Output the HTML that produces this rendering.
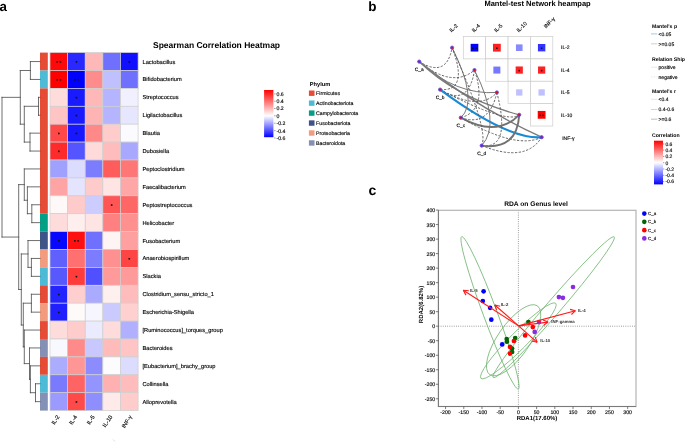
<!DOCTYPE html>
<html><head><meta charset="utf-8"><style>
html,body{margin:0;padding:0;background:#fff;}
body{width:685px;height:444px;overflow:hidden;}
svg{display:block;font-family:'Liberation Sans', sans-serif;will-change:transform;text-rendering:geometricPrecision;}
text{stroke:#000;stroke-width:0.22px;stroke-opacity:0.6;}
text[font-weight="bold"]{stroke:none;}
</style></head><body>
<svg width="685" height="444" viewBox="0 0 685 444">
<rect width="685" height="444" fill="#fff"/>
<text x="-0.5" y="11.0" font-size="13.3" font-weight="bold">a</text>
<text x="153" y="48" font-size="8.5" font-weight="bold">Spearman Correlation Heatmap</text>
<rect x="40" y="52.60" width="7.8" height="17.90" fill="#E64B35"/>
<rect x="40" y="70.50" width="7.8" height="17.90" fill="#4DBBD5"/>
<rect x="40" y="88.40" width="7.8" height="125.30" fill="#E64B35"/>
<rect x="40" y="213.70" width="7.8" height="17.90" fill="#00A087"/>
<rect x="40" y="231.60" width="7.8" height="17.90" fill="#3C5488"/>
<rect x="40" y="249.50" width="7.8" height="17.90" fill="#F39B7F"/>
<rect x="40" y="267.40" width="7.8" height="17.90" fill="#4DBBD5"/>
<rect x="40" y="285.30" width="7.8" height="17.90" fill="#E64B35"/>
<rect x="40" y="303.20" width="7.8" height="17.90" fill="#F39B7F"/>
<rect x="40" y="321.10" width="7.8" height="17.90" fill="#E64B35"/>
<rect x="40" y="339.00" width="7.8" height="17.90" fill="#8491B4"/>
<rect x="40" y="356.90" width="7.8" height="17.90" fill="#E64B35"/>
<rect x="40" y="374.80" width="7.8" height="17.90" fill="#4DBBD5"/>
<rect x="40" y="392.70" width="7.8" height="17.90" fill="#8491B4"/>
<rect x="50.00" y="52.60" width="17.62" height="17.90" fill="#ff0a0a" stroke="#cfcfcf" stroke-width="0.7"/>
<rect x="56.41" y="61.05" width="1.6" height="1.6" fill="#111"/>
<rect x="59.61" y="61.05" width="1.6" height="1.6" fill="#111"/>
<rect x="67.62" y="52.60" width="17.62" height="17.90" fill="#2828ff" stroke="#cfcfcf" stroke-width="0.7"/>
<rect x="75.63" y="61.05" width="1.6" height="1.6" fill="#111"/>
<rect x="85.24" y="52.60" width="17.62" height="17.90" fill="#ffb8b8" stroke="#cfcfcf" stroke-width="0.7"/>
<rect x="102.86" y="52.60" width="17.62" height="17.90" fill="#7070ff" stroke="#cfcfcf" stroke-width="0.7"/>
<rect x="120.48" y="52.60" width="17.62" height="17.90" fill="#1010ff" stroke="#cfcfcf" stroke-width="0.7"/>
<rect x="128.49" y="61.05" width="1.6" height="1.6" fill="#111"/>
<text x="142.5" y="63.55" font-size="5.7">Lactobacillus</text>
<rect x="50.00" y="70.50" width="17.62" height="17.90" fill="#ff0000" stroke="#cfcfcf" stroke-width="0.7"/>
<rect x="56.41" y="78.95" width="1.6" height="1.6" fill="#111"/>
<rect x="59.61" y="78.95" width="1.6" height="1.6" fill="#111"/>
<rect x="67.62" y="70.50" width="17.62" height="17.90" fill="#0000ff" stroke="#cfcfcf" stroke-width="0.7"/>
<rect x="74.03" y="78.95" width="1.6" height="1.6" fill="#111"/>
<rect x="77.23" y="78.95" width="1.6" height="1.6" fill="#111"/>
<rect x="85.24" y="70.50" width="17.62" height="17.90" fill="#ff8c8c" stroke="#cfcfcf" stroke-width="0.7"/>
<rect x="102.86" y="70.50" width="17.62" height="17.90" fill="#c0c0ff" stroke="#cfcfcf" stroke-width="0.7"/>
<rect x="120.48" y="70.50" width="17.62" height="17.90" fill="#7070ff" stroke="#cfcfcf" stroke-width="0.7"/>
<text x="142.5" y="81.45" font-size="5.7">Bifidobacterium</text>
<rect x="50.00" y="88.40" width="17.62" height="17.90" fill="#ffdcdc" stroke="#cfcfcf" stroke-width="0.7"/>
<rect x="67.62" y="88.40" width="17.62" height="17.90" fill="#1a1aff" stroke="#cfcfcf" stroke-width="0.7"/>
<rect x="75.63" y="96.85" width="1.6" height="1.6" fill="#111"/>
<rect x="85.24" y="88.40" width="17.62" height="17.90" fill="#ffb8b8" stroke="#cfcfcf" stroke-width="0.7"/>
<rect x="102.86" y="88.40" width="17.62" height="17.90" fill="#b4b4ff" stroke="#cfcfcf" stroke-width="0.7"/>
<rect x="120.48" y="88.40" width="17.62" height="17.90" fill="#f0f0ff" stroke="#cfcfcf" stroke-width="0.7"/>
<text x="142.5" y="99.35" font-size="5.7">Streptococcus</text>
<rect x="50.00" y="106.30" width="17.62" height="17.90" fill="#ffc4c4" stroke="#cfcfcf" stroke-width="0.7"/>
<rect x="67.62" y="106.30" width="17.62" height="17.90" fill="#1a1aff" stroke="#cfcfcf" stroke-width="0.7"/>
<rect x="75.63" y="114.75" width="1.6" height="1.6" fill="#111"/>
<rect x="85.24" y="106.30" width="17.62" height="17.90" fill="#ffb4b4" stroke="#cfcfcf" stroke-width="0.7"/>
<rect x="102.86" y="106.30" width="17.62" height="17.90" fill="#b4b4ff" stroke="#cfcfcf" stroke-width="0.7"/>
<rect x="120.48" y="106.30" width="17.62" height="17.90" fill="#e6e6ff" stroke="#cfcfcf" stroke-width="0.7"/>
<text x="142.5" y="117.25" font-size="5.7">Ligilactobacillus</text>
<rect x="50.00" y="124.20" width="17.62" height="17.90" fill="#ff4848" stroke="#cfcfcf" stroke-width="0.7"/>
<rect x="58.01" y="132.65" width="1.6" height="1.6" fill="#111"/>
<rect x="67.62" y="124.20" width="17.62" height="17.90" fill="#1818ff" stroke="#cfcfcf" stroke-width="0.7"/>
<rect x="75.63" y="132.65" width="1.6" height="1.6" fill="#111"/>
<rect x="85.24" y="124.20" width="17.62" height="17.90" fill="#ff8888" stroke="#cfcfcf" stroke-width="0.7"/>
<rect x="102.86" y="124.20" width="17.62" height="17.90" fill="#ffcccc" stroke="#cfcfcf" stroke-width="0.7"/>
<rect x="120.48" y="124.20" width="17.62" height="17.90" fill="#fafaff" stroke="#cfcfcf" stroke-width="0.7"/>
<text x="142.5" y="135.15" font-size="5.7">Blautia</text>
<rect x="50.00" y="142.10" width="17.62" height="17.90" fill="#ff2a2a" stroke="#cfcfcf" stroke-width="0.7"/>
<rect x="58.01" y="150.55" width="1.6" height="1.6" fill="#111"/>
<rect x="67.62" y="142.10" width="17.62" height="17.90" fill="#5555ff" stroke="#cfcfcf" stroke-width="0.7"/>
<rect x="85.24" y="142.10" width="17.62" height="17.90" fill="#ffdada" stroke="#cfcfcf" stroke-width="0.7"/>
<rect x="102.86" y="142.10" width="17.62" height="17.90" fill="#ffbcbc" stroke="#cfcfcf" stroke-width="0.7"/>
<rect x="120.48" y="142.10" width="17.62" height="17.90" fill="#a8a8ff" stroke="#cfcfcf" stroke-width="0.7"/>
<text x="142.5" y="153.05" font-size="5.7">Dubosiella</text>
<rect x="50.00" y="160.00" width="17.62" height="17.90" fill="#a0a0ff" stroke="#cfcfcf" stroke-width="0.7"/>
<rect x="67.62" y="160.00" width="17.62" height="17.90" fill="#dcdcff" stroke="#cfcfcf" stroke-width="0.7"/>
<rect x="85.24" y="160.00" width="17.62" height="17.90" fill="#7c7cff" stroke="#cfcfcf" stroke-width="0.7"/>
<rect x="102.86" y="160.00" width="17.62" height="17.90" fill="#ff5c5c" stroke="#cfcfcf" stroke-width="0.7"/>
<rect x="120.48" y="160.00" width="17.62" height="17.90" fill="#ff7676" stroke="#cfcfcf" stroke-width="0.7"/>
<text x="142.5" y="170.95" font-size="5.7">Peptoclostridium</text>
<rect x="50.00" y="177.90" width="17.62" height="17.90" fill="#ffa4a4" stroke="#cfcfcf" stroke-width="0.7"/>
<rect x="67.62" y="177.90" width="17.62" height="17.90" fill="#e4e4ff" stroke="#cfcfcf" stroke-width="0.7"/>
<rect x="85.24" y="177.90" width="17.62" height="17.90" fill="#ffcaca" stroke="#cfcfcf" stroke-width="0.7"/>
<rect x="102.86" y="177.90" width="17.62" height="17.90" fill="#ffe4e4" stroke="#cfcfcf" stroke-width="0.7"/>
<rect x="120.48" y="177.90" width="17.62" height="17.90" fill="#ffa6a6" stroke="#cfcfcf" stroke-width="0.7"/>
<text x="142.5" y="188.85" font-size="5.7">Faecalibacterium</text>
<rect x="50.00" y="195.80" width="17.62" height="17.90" fill="#fff8f8" stroke="#cfcfcf" stroke-width="0.7"/>
<rect x="67.62" y="195.80" width="17.62" height="17.90" fill="#ffcaca" stroke="#cfcfcf" stroke-width="0.7"/>
<rect x="85.24" y="195.80" width="17.62" height="17.90" fill="#ccccff" stroke="#cfcfcf" stroke-width="0.7"/>
<rect x="102.86" y="195.80" width="17.62" height="17.90" fill="#ff5555" stroke="#cfcfcf" stroke-width="0.7"/>
<rect x="110.87" y="204.25" width="1.6" height="1.6" fill="#111"/>
<rect x="120.48" y="195.80" width="17.62" height="17.90" fill="#ff6666" stroke="#cfcfcf" stroke-width="0.7"/>
<text x="142.5" y="206.75" font-size="5.7">Peptostreptococcus</text>
<rect x="50.00" y="213.70" width="17.62" height="17.90" fill="#ffdcdc" stroke="#cfcfcf" stroke-width="0.7"/>
<rect x="67.62" y="213.70" width="17.62" height="17.90" fill="#ffeeee" stroke="#cfcfcf" stroke-width="0.7"/>
<rect x="85.24" y="213.70" width="17.62" height="17.90" fill="#ffe4e4" stroke="#cfcfcf" stroke-width="0.7"/>
<rect x="102.86" y="213.70" width="17.62" height="17.90" fill="#ff8080" stroke="#cfcfcf" stroke-width="0.7"/>
<rect x="120.48" y="213.70" width="17.62" height="17.90" fill="#ff9090" stroke="#cfcfcf" stroke-width="0.7"/>
<text x="142.5" y="224.65" font-size="5.7">Helicobacter</text>
<rect x="50.00" y="231.60" width="17.62" height="17.90" fill="#0808ff" stroke="#cfcfcf" stroke-width="0.7"/>
<rect x="58.01" y="240.05" width="1.6" height="1.6" fill="#111"/>
<rect x="67.62" y="231.60" width="17.62" height="17.90" fill="#ff1010" stroke="#cfcfcf" stroke-width="0.7"/>
<rect x="74.03" y="240.05" width="1.6" height="1.6" fill="#111"/>
<rect x="77.23" y="240.05" width="1.6" height="1.6" fill="#111"/>
<rect x="85.24" y="231.60" width="17.62" height="17.90" fill="#7070ff" stroke="#cfcfcf" stroke-width="0.7"/>
<rect x="102.86" y="231.60" width="17.62" height="17.90" fill="#fff4f4" stroke="#cfcfcf" stroke-width="0.7"/>
<rect x="120.48" y="231.60" width="17.62" height="17.90" fill="#ffa0a0" stroke="#cfcfcf" stroke-width="0.7"/>
<text x="142.5" y="242.55" font-size="5.7">Fusobacterium</text>
<rect x="50.00" y="249.50" width="17.62" height="17.90" fill="#6060ff" stroke="#cfcfcf" stroke-width="0.7"/>
<rect x="67.62" y="249.50" width="17.62" height="17.90" fill="#ff7070" stroke="#cfcfcf" stroke-width="0.7"/>
<rect x="85.24" y="249.50" width="17.62" height="17.90" fill="#7c7cff" stroke="#cfcfcf" stroke-width="0.7"/>
<rect x="102.86" y="249.50" width="17.62" height="17.90" fill="#ff9090" stroke="#cfcfcf" stroke-width="0.7"/>
<rect x="120.48" y="249.50" width="17.62" height="17.90" fill="#ff4444" stroke="#cfcfcf" stroke-width="0.7"/>
<rect x="128.49" y="257.95" width="1.6" height="1.6" fill="#111"/>
<text x="142.5" y="260.45" font-size="5.7">Anaerobiospirillum</text>
<rect x="50.00" y="267.40" width="17.62" height="17.90" fill="#5858ff" stroke="#cfcfcf" stroke-width="0.7"/>
<rect x="67.62" y="267.40" width="17.62" height="17.90" fill="#ff3c3c" stroke="#cfcfcf" stroke-width="0.7"/>
<rect x="75.63" y="275.85" width="1.6" height="1.6" fill="#111"/>
<rect x="85.24" y="267.40" width="17.62" height="17.90" fill="#5050ff" stroke="#cfcfcf" stroke-width="0.7"/>
<rect x="102.86" y="267.40" width="17.62" height="17.90" fill="#ff9a9a" stroke="#cfcfcf" stroke-width="0.7"/>
<rect x="120.48" y="267.40" width="17.62" height="17.90" fill="#ff9a9a" stroke="#cfcfcf" stroke-width="0.7"/>
<text x="142.5" y="278.35" font-size="5.7">Slackia</text>
<rect x="50.00" y="285.30" width="17.62" height="17.90" fill="#2424ff" stroke="#cfcfcf" stroke-width="0.7"/>
<rect x="58.01" y="293.75" width="1.6" height="1.6" fill="#111"/>
<rect x="67.62" y="285.30" width="17.62" height="17.90" fill="#ffcece" stroke="#cfcfcf" stroke-width="0.7"/>
<rect x="85.24" y="285.30" width="17.62" height="17.90" fill="#aaaaff" stroke="#cfcfcf" stroke-width="0.7"/>
<rect x="102.86" y="285.30" width="17.62" height="17.90" fill="#fff0f0" stroke="#cfcfcf" stroke-width="0.7"/>
<rect x="120.48" y="285.30" width="17.62" height="17.90" fill="#ffbcbc" stroke="#cfcfcf" stroke-width="0.7"/>
<text x="142.5" y="296.25" font-size="5.7">Clostridium_sensu_stricto_1</text>
<rect x="50.00" y="303.20" width="17.62" height="17.90" fill="#2020ff" stroke="#cfcfcf" stroke-width="0.7"/>
<rect x="58.01" y="311.65" width="1.6" height="1.6" fill="#111"/>
<rect x="67.62" y="303.20" width="17.62" height="17.90" fill="#fffafa" stroke="#cfcfcf" stroke-width="0.7"/>
<rect x="85.24" y="303.20" width="17.62" height="17.90" fill="#f6f6ff" stroke="#cfcfcf" stroke-width="0.7"/>
<rect x="102.86" y="303.20" width="17.62" height="17.90" fill="#cacaff" stroke="#cfcfcf" stroke-width="0.7"/>
<rect x="120.48" y="303.20" width="17.62" height="17.90" fill="#ffd0d0" stroke="#cfcfcf" stroke-width="0.7"/>
<text x="142.5" y="314.15" font-size="5.7">Escherichia-Shigella</text>
<rect x="50.00" y="321.10" width="17.62" height="17.90" fill="#ffdcdc" stroke="#cfcfcf" stroke-width="0.7"/>
<rect x="67.62" y="321.10" width="17.62" height="17.90" fill="#ffcccc" stroke="#cfcfcf" stroke-width="0.7"/>
<rect x="85.24" y="321.10" width="17.62" height="17.90" fill="#ebebff" stroke="#cfcfcf" stroke-width="0.7"/>
<rect x="102.86" y="321.10" width="17.62" height="17.90" fill="#ffdcdc" stroke="#cfcfcf" stroke-width="0.7"/>
<rect x="120.48" y="321.10" width="17.62" height="17.90" fill="#b0b0ff" stroke="#cfcfcf" stroke-width="0.7"/>
<text x="142.5" y="332.05" font-size="5.7">[Ruminococcus]_torques_group</text>
<rect x="50.00" y="339.00" width="17.62" height="17.90" fill="#f8f8ff" stroke="#cfcfcf" stroke-width="0.7"/>
<rect x="67.62" y="339.00" width="17.62" height="17.90" fill="#ff8a8a" stroke="#cfcfcf" stroke-width="0.7"/>
<rect x="85.24" y="339.00" width="17.62" height="17.90" fill="#c8c8ff" stroke="#cfcfcf" stroke-width="0.7"/>
<rect x="102.86" y="339.00" width="17.62" height="17.90" fill="#ffbaba" stroke="#cfcfcf" stroke-width="0.7"/>
<rect x="120.48" y="339.00" width="17.62" height="17.90" fill="#ffc4c4" stroke="#cfcfcf" stroke-width="0.7"/>
<text x="142.5" y="349.95" font-size="5.7">Bacteroides</text>
<rect x="50.00" y="356.90" width="17.62" height="17.90" fill="#acacff" stroke="#cfcfcf" stroke-width="0.7"/>
<rect x="67.62" y="356.90" width="17.62" height="17.90" fill="#ff9696" stroke="#cfcfcf" stroke-width="0.7"/>
<rect x="85.24" y="356.90" width="17.62" height="17.90" fill="#8c8cff" stroke="#cfcfcf" stroke-width="0.7"/>
<rect x="102.86" y="356.90" width="17.62" height="17.90" fill="#fcfcff" stroke="#cfcfcf" stroke-width="0.7"/>
<rect x="120.48" y="356.90" width="17.62" height="17.90" fill="#dcdcff" stroke="#cfcfcf" stroke-width="0.7"/>
<text x="142.5" y="367.85" font-size="5.7">[Eubacterium]_brachy_group</text>
<rect x="50.00" y="374.80" width="17.62" height="17.90" fill="#7a7aff" stroke="#cfcfcf" stroke-width="0.7"/>
<rect x="67.62" y="374.80" width="17.62" height="17.90" fill="#ff6464" stroke="#cfcfcf" stroke-width="0.7"/>
<rect x="85.24" y="374.80" width="17.62" height="17.90" fill="#9494ff" stroke="#cfcfcf" stroke-width="0.7"/>
<rect x="102.86" y="374.80" width="17.62" height="17.90" fill="#ffb0b0" stroke="#cfcfcf" stroke-width="0.7"/>
<rect x="120.48" y="374.80" width="17.62" height="17.90" fill="#ffbcbc" stroke="#cfcfcf" stroke-width="0.7"/>
<text x="142.5" y="385.75" font-size="5.7">Collinsella</text>
<rect x="50.00" y="392.70" width="17.62" height="17.90" fill="#9a9aff" stroke="#cfcfcf" stroke-width="0.7"/>
<rect x="67.62" y="392.70" width="17.62" height="17.90" fill="#ff4a4a" stroke="#cfcfcf" stroke-width="0.7"/>
<rect x="75.63" y="401.15" width="1.6" height="1.6" fill="#111"/>
<rect x="85.24" y="392.70" width="17.62" height="17.90" fill="#8e8eff" stroke="#cfcfcf" stroke-width="0.7"/>
<rect x="102.86" y="392.70" width="17.62" height="17.90" fill="#ffeaea" stroke="#cfcfcf" stroke-width="0.7"/>
<rect x="120.48" y="392.70" width="17.62" height="17.90" fill="#ffcccc" stroke="#cfcfcf" stroke-width="0.7"/>
<text x="142.5" y="403.65" font-size="5.7">Alloprevotella</text>
<text transform="translate(59.81,416.8) rotate(-57)" text-anchor="end" font-size="5.7">IL-2</text>
<text transform="translate(77.43,416.8) rotate(-57)" text-anchor="end" font-size="5.7">IL-4</text>
<text transform="translate(95.05,416.8) rotate(-57)" text-anchor="end" font-size="5.7">IL-5</text>
<text transform="translate(112.67,416.8) rotate(-57)" text-anchor="end" font-size="5.7">IL-10</text>
<text transform="translate(132.29,416.8) rotate(-57)" text-anchor="end" font-size="5.7">INF-γ</text>
<path d="M30.40 61.55L30.40 79.45 M30.40 61.55L40.00 61.55 M30.40 79.45L40.00 79.45 M38.50 97.35L38.50 115.25 M38.50 97.35L40.00 97.35 M38.50 115.25L40.00 115.25 M30.00 133.15L30.00 151.05 M30.00 133.15L40.00 133.15 M30.00 151.05L40.00 151.05 M24.30 106.30L24.30 142.10 M24.30 106.30L38.50 106.30 M24.30 142.10L30.00 142.10 M20.30 70.50L20.30 124.20 M20.30 70.50L30.40 70.50 M20.30 124.20L24.30 124.20 M31.80 204.75L31.80 222.65 M31.80 204.75L40.00 204.75 M31.80 222.65L40.00 222.65 M27.40 186.85L27.40 213.70 M27.40 186.85L40.00 186.85 M27.40 213.70L31.80 213.70 M24.30 168.95L24.30 200.27 M24.30 168.95L40.00 168.95 M24.30 200.27L27.40 200.27 M31.40 258.45L31.40 276.35 M31.40 258.45L40.00 258.45 M31.40 276.35L40.00 276.35 M28.00 240.55L28.00 267.40 M28.00 240.55L40.00 240.55 M28.00 267.40L31.40 267.40 M31.40 294.25L31.40 312.15 M31.40 294.25L40.00 294.25 M31.40 312.15L40.00 312.15 M35.50 383.75L35.50 401.65 M35.50 383.75L40.00 383.75 M35.50 401.65L40.00 401.65 M30.40 365.85L30.40 392.70 M30.40 365.85L40.00 365.85 M30.40 392.70L35.50 392.70 M29.50 347.95L29.50 379.27 M29.50 347.95L40.00 347.95 M29.50 379.27L30.40 379.27 M24.30 330.05L24.30 363.61 M24.30 330.05L40.00 330.05 M24.30 363.61L29.50 363.61 M23.30 303.20L23.30 346.83 M23.30 303.20L31.40 303.20 M23.30 346.83L24.30 346.83 M21.30 253.97L21.30 325.02 M21.30 253.97L28.00 253.97 M21.30 325.02L23.30 325.02 M18.70 184.61L18.70 289.50 M18.70 184.61L24.30 184.61 M18.70 289.50L21.30 289.50 M2.00 97.35L2.00 237.05 M2.00 97.35L20.30 97.35 M2.00 237.05L18.70 237.05" stroke="#4a4a4a" stroke-width="0.8" fill="none" stroke-linecap="square"/>
<defs><linearGradient id="ga" x1="0" y1="0" x2="0" y2="1"><stop offset="0" stop-color="#ff0000"/><stop offset="0.546" stop-color="#ffffff"/><stop offset="1" stop-color="#0000ff"/></linearGradient><linearGradient id="gb" x1="0" y1="0" x2="0" y2="1"><stop offset="0" stop-color="#ff0000"/><stop offset="0.5" stop-color="#ffffff"/><stop offset="1" stop-color="#0000ff"/></linearGradient></defs>
<rect x="264.1" y="90" width="9.3" height="47.2" fill="url(#ga)"/>
<line x1="274.1" y1="93.9" x2="275.6" y2="93.9" stroke="#444" stroke-width="0.5"/>
<text x="276.5" y="95.80" font-size="5.2">0.6</text>
<line x1="274.1" y1="101.2" x2="275.6" y2="101.2" stroke="#444" stroke-width="0.5"/>
<text x="276.5" y="103.10" font-size="5.2">0.4</text>
<line x1="274.1" y1="108.5" x2="275.6" y2="108.5" stroke="#444" stroke-width="0.5"/>
<text x="276.5" y="110.40" font-size="5.2">0.2</text>
<line x1="274.1" y1="115.8" x2="275.6" y2="115.8" stroke="#444" stroke-width="0.5"/>
<text x="276.5" y="117.70" font-size="5.2">0</text>
<line x1="274.1" y1="123.2" x2="275.6" y2="123.2" stroke="#444" stroke-width="0.5"/>
<text x="276.5" y="125.10" font-size="5.2">-0.2</text>
<line x1="274.1" y1="130.6" x2="275.6" y2="130.6" stroke="#444" stroke-width="0.5"/>
<text x="276.5" y="132.50" font-size="5.2">-0.4</text>
<line x1="274.1" y1="138.0" x2="275.6" y2="138.0" stroke="#444" stroke-width="0.5"/>
<text x="276.5" y="139.90" font-size="5.2">-0.6</text>
<text x="309.8" y="86" font-size="5.7" font-weight="bold">Phylum</text>
<rect x="308.9" y="90.50" width="5.6" height="5.4" fill="#E64B35"/>
<text x="316.1" y="95.10" font-size="5.2">Firmicutes</text>
<rect x="308.9" y="100.45" width="5.6" height="5.4" fill="#4DBBD5"/>
<text x="316.1" y="105.05" font-size="5.2">Actinobacteriota</text>
<rect x="308.9" y="110.40" width="5.6" height="5.4" fill="#00A087"/>
<text x="316.1" y="115.00" font-size="5.2">Campylobacterota</text>
<rect x="308.9" y="120.35" width="5.6" height="5.4" fill="#3C5488"/>
<text x="316.1" y="124.95" font-size="5.2">Fusobacteriota</text>
<rect x="308.9" y="130.30" width="5.6" height="5.4" fill="#F39B7F"/>
<text x="316.1" y="134.90" font-size="5.2">Proteobacteria</text>
<rect x="308.9" y="140.25" width="5.6" height="5.4" fill="#8491B4"/>
<text x="316.1" y="144.85" font-size="5.2">Bacteroidota</text>
<line x1="112.6" y1="439.6" x2="115.2" y2="441.4" stroke="#d0d0d0" stroke-width="0.6"/>
<text x="368.3" y="11.4" font-size="13.5" font-weight="bold">b</text>
<text x="484.4" y="5.85" font-size="7.5" font-weight="bold">Mantel-test Network heampap</text>
<rect x="463.30" y="36.50" width="22.38" height="22.38" fill="white" stroke="#cccccc" stroke-width="0.7"/>
<rect x="485.68" y="36.50" width="22.38" height="22.38" fill="white" stroke="#cccccc" stroke-width="0.7"/>
<rect x="508.06" y="36.50" width="22.38" height="22.38" fill="white" stroke="#cccccc" stroke-width="0.7"/>
<rect x="530.44" y="36.50" width="22.38" height="22.38" fill="white" stroke="#cccccc" stroke-width="0.7"/>
<rect x="485.68" y="58.88" width="22.38" height="22.38" fill="white" stroke="#cccccc" stroke-width="0.7"/>
<rect x="508.06" y="58.88" width="22.38" height="22.38" fill="white" stroke="#cccccc" stroke-width="0.7"/>
<rect x="530.44" y="58.88" width="22.38" height="22.38" fill="white" stroke="#cccccc" stroke-width="0.7"/>
<rect x="508.06" y="81.26" width="22.38" height="22.38" fill="white" stroke="#cccccc" stroke-width="0.7"/>
<rect x="530.44" y="81.26" width="22.38" height="22.38" fill="white" stroke="#cccccc" stroke-width="0.7"/>
<rect x="530.44" y="103.64" width="22.38" height="22.38" fill="white" stroke="#cccccc" stroke-width="0.7"/>
<rect x="470.64" y="43.84" width="7.7" height="7.7" fill="#0000ff"/>
<rect x="472.24" y="47.49" width="1.5" height="1.5" fill="#111"/>
<rect x="475.24" y="47.49" width="1.5" height="1.5" fill="#111"/>
<rect x="492.97" y="43.79" width="7.8" height="7.8" fill="#ff2020"/>
<rect x="496.12" y="47.49" width="1.5" height="1.5" fill="#111"/>
<rect x="515.95" y="44.39" width="6.6" height="6.6" fill="#8888ff"/>
<rect x="537.93" y="43.99" width="7.4" height="7.4" fill="#3333ff"/>
<rect x="540.88" y="47.49" width="1.5" height="1.5" fill="#111"/>
<rect x="493.37" y="66.57" width="7.0" height="7.0" fill="#7777ff"/>
<rect x="515.65" y="66.47" width="7.2" height="7.2" fill="#ff2222"/>
<rect x="518.50" y="69.87" width="1.5" height="1.5" fill="#111"/>
<rect x="538.03" y="66.47" width="7.2" height="7.2" fill="#ff2222"/>
<rect x="540.88" y="69.87" width="1.5" height="1.5" fill="#111"/>
<rect x="516.10" y="89.30" width="6.3" height="6.3" fill="#c0c0ff"/>
<rect x="538.48" y="89.30" width="6.3" height="6.3" fill="#c0c0ff"/>
<rect x="537.73" y="110.93" width="7.8" height="7.8" fill="#ff0000"/>
<rect x="539.38" y="114.63" width="1.5" height="1.5" fill="#111"/>
<rect x="542.38" y="114.63" width="1.5" height="1.5" fill="#111"/>
<text transform="translate(451.51,32.60) rotate(-45)" font-size="5.4">IL-2</text>
<text transform="translate(473.89,32.60) rotate(-45)" font-size="5.4">IL-4</text>
<text transform="translate(496.27,32.60) rotate(-45)" font-size="5.4">IL-5</text>
<text transform="translate(518.65,32.60) rotate(-45)" font-size="5.4">IL-10</text>
<text transform="translate(546.03,28.60) rotate(-45)" font-size="5.4">INF-γ</text>
<text x="561" y="49.49" font-size="5">IL-2</text>
<text x="561" y="71.87" font-size="5">IL-4</text>
<text x="561" y="94.25" font-size="5">IL-5</text>
<text x="561" y="116.63" font-size="5">IL-10</text>
<text x="562.2" y="140.01" font-size="5">INF-γ</text>
<path d="M419.20 61.60Q446.51 78.50 452.11 47.69" stroke="#5e5e5e" stroke-width="0.95" fill="none" stroke-dasharray="2.3 1.5"/>
<path d="M419.20 61.60Q452.39 88.74 474.49 70.07" stroke="#5e5e5e" stroke-width="0.95" fill="none" stroke-dasharray="2.3 1.5"/>
<path d="M419.20 61.60Q456.12 95.42 496.87 92.45" stroke="#727272" stroke-width="0.95" fill="none"/>
<path d="M419.20 61.60Q456.27 98.09 519.25 114.83" stroke="#7a7a7a" stroke-width="1.4" fill="none"/>
<path d="M419.20 61.60Q475.69 107.06 541.63 137.21" stroke="#7a7a7a" stroke-width="1.4" fill="none"/>
<path d="M440.10 89.60Q469.08 91.56 452.11 47.69" stroke="#5e5e5e" stroke-width="0.95" fill="none" stroke-dasharray="2.3 1.5"/>
<path d="M440.10 89.60Q468.67 107.87 474.49 70.07" stroke="#5e5e5e" stroke-width="0.95" fill="none" stroke-dasharray="2.3 1.5"/>
<path d="M440.10 89.60Q479.96 111.83 496.87 92.45" stroke="#5e5e5e" stroke-width="0.95" fill="none" stroke-dasharray="2.3 1.5"/>
<path d="M440.10 89.60Q507.39 124.69 519.25 114.83" stroke="#5e5e5e" stroke-width="0.95" fill="none" stroke-dasharray="2.3 1.5"/>
<path d="M440.10 89.60Q508.18 139.86 541.63 137.21" stroke="#1a8ad4" stroke-width="2.1" fill="none"/>
<path d="M460.80 117.70Q478.91 101.23 452.11 47.69" stroke="#727272" stroke-width="0.95" fill="none"/>
<path d="M460.80 117.70Q487.97 110.04 474.49 70.07" stroke="#5e5e5e" stroke-width="0.95" fill="none" stroke-dasharray="2.3 1.5"/>
<path d="M460.80 117.70Q489.11 127.43 496.87 92.45" stroke="#5e5e5e" stroke-width="0.95" fill="none" stroke-dasharray="2.3 1.5"/>
<path d="M460.80 117.70Q496.94 137.75 519.25 114.83" stroke="#727272" stroke-width="1.9" fill="none"/>
<path d="M460.80 117.70Q516.30 150.02 541.63 137.21" stroke="#5e5e5e" stroke-width="0.95" fill="none" stroke-dasharray="2.3 1.5"/>
<path d="M481.70 145.60Q489.25 130.49 452.11 47.69" stroke="#5e5e5e" stroke-width="0.95" fill="none" stroke-dasharray="2.3 1.5"/>
<path d="M481.70 145.60Q501.53 123.89 474.49 70.07" stroke="#727272" stroke-width="0.95" fill="none"/>
<path d="M481.70 145.60Q511.57 149.53 496.87 92.45" stroke="#5e5e5e" stroke-width="0.95" fill="none" stroke-dasharray="2.3 1.5"/>
<path d="M481.70 145.60Q517.08 150.48 519.25 114.83" stroke="#727272" stroke-width="1.9" fill="none"/>
<path d="M481.70 145.60Q525.72 163.27 541.63 137.21" stroke="#5e5e5e" stroke-width="0.95" fill="none" stroke-dasharray="2.3 1.5"/>
<circle cx="452.11" cy="47.69" r="1.6" fill="#e01010" stroke="#5050ff" stroke-width="0.9"/>
<circle cx="474.49" cy="70.07" r="1.6" fill="#e01010" stroke="#5050ff" stroke-width="0.9"/>
<circle cx="496.87" cy="92.45" r="1.6" fill="#e01010" stroke="#5050ff" stroke-width="0.9"/>
<circle cx="519.25" cy="114.83" r="1.6" fill="#e01010" stroke="#5050ff" stroke-width="0.9"/>
<circle cx="541.63" cy="137.21" r="1.6" fill="#e01010" stroke="#5050ff" stroke-width="0.9"/>
<circle cx="419.20" cy="61.60" r="1.6" fill="#e01010" stroke="#5050ff" stroke-width="0.9"/>
<circle cx="440.10" cy="89.60" r="1.6" fill="#e01010" stroke="#5050ff" stroke-width="0.9"/>
<circle cx="460.80" cy="117.70" r="1.6" fill="#e01010" stroke="#5050ff" stroke-width="0.9"/>
<circle cx="481.70" cy="145.60" r="1.6" fill="#e01010" stroke="#5050ff" stroke-width="0.9"/>
<text x="419.20" y="70.60" font-size="4.8" text-anchor="middle">C_a</text>
<text x="440.10" y="98.60" font-size="4.8" text-anchor="middle">C_b</text>
<text x="460.80" y="126.70" font-size="4.8" text-anchor="middle">C_c</text>
<text x="481.70" y="154.60" font-size="4.8" text-anchor="middle">C_d</text>
<text x="651.9" y="27.70" font-size="5.2" font-weight="bold">Mantel's p</text>
<line x1="651" y1="33.9" x2="657.3" y2="33.9" stroke="#9fcdef" stroke-width="1.0"/>
<text x="658.6" y="35.70" font-size="5">&lt;0.05</text>
<line x1="651" y1="43.8" x2="657.3" y2="43.8" stroke="#c4c4c4" stroke-width="0.8"/>
<text x="658.6" y="45.60" font-size="5">&gt;=0.05</text>
<text x="651.9" y="60.50" font-size="5.2" font-weight="bold">Relation Ship</text>
<line x1="651" y1="67.2" x2="657.3" y2="67.2" stroke="#d6d6d6" stroke-width="0.6"/>
<text x="658.6" y="69.00" font-size="5">positive</text>
<line x1="651" y1="76.9" x2="657.3" y2="76.9" stroke="#d6d6d6" stroke-width="0.6" stroke-dasharray="1.5 1.2"/>
<text x="658.6" y="78.70" font-size="5">negative</text>
<text x="651.9" y="93.30" font-size="5.2" font-weight="bold">Mantel's r</text>
<line x1="651" y1="99.3" x2="657.3" y2="99.3" stroke="#c8c8c8" stroke-width="0.5"/>
<text x="658.6" y="101.10" font-size="5">&lt;0.4</text>
<line x1="651" y1="109.5" x2="657.3" y2="109.5" stroke="#c8c8c8" stroke-width="0.8"/>
<text x="658.6" y="111.30" font-size="5">0.4-0.6</text>
<line x1="651" y1="119.2" x2="657.3" y2="119.2" stroke="#c8c8c8" stroke-width="1.2"/>
<text x="658.6" y="121.00" font-size="5">&gt;=0.6</text>
<text x="651.9" y="136.90" font-size="5.2" font-weight="bold">Correlation</text>
<rect x="654" y="140.7" width="9" height="43.7" fill="url(#gb)"/>
<line x1="663" y1="144" x2="664.3" y2="144" stroke="#444" stroke-width="0.5"/>
<text x="665.4" y="145.80" font-size="5">0.6</text>
<line x1="663" y1="150.2" x2="664.3" y2="150.2" stroke="#444" stroke-width="0.5"/>
<text x="665.4" y="152.00" font-size="5">0.4</text>
<line x1="663" y1="156.5" x2="664.3" y2="156.5" stroke="#444" stroke-width="0.5"/>
<text x="665.4" y="158.30" font-size="5">0.2</text>
<line x1="663" y1="162.7" x2="664.3" y2="162.7" stroke="#444" stroke-width="0.5"/>
<text x="665.4" y="164.50" font-size="5">0</text>
<line x1="663" y1="169" x2="664.3" y2="169" stroke="#444" stroke-width="0.5"/>
<text x="665.4" y="170.80" font-size="5">-0.2</text>
<line x1="663" y1="175.3" x2="664.3" y2="175.3" stroke="#444" stroke-width="0.5"/>
<text x="665.4" y="177.10" font-size="5">-0.4</text>
<line x1="663" y1="181.6" x2="664.3" y2="181.6" stroke="#444" stroke-width="0.5"/>
<text x="665.4" y="183.40" font-size="5">-0.6</text>
<text x="368.5" y="194.8" font-size="14" font-weight="bold">c</text>
<text x="504.2" y="205.8" font-size="6.7" font-weight="bold">RDA on Genus level</text>
<line x1="438.45" y1="326.20" x2="636.0" y2="326.20" stroke="#555" stroke-width="0.7" stroke-dasharray="0.8 1.4"/>
<line x1="518.40" y1="210.3" x2="518.40" y2="406.5" stroke="#555" stroke-width="0.7" stroke-dasharray="0.8 1.4"/>
<ellipse cx="490.0" cy="312.84" rx="81.26" ry="7.01" transform="rotate(69.61 490.0 312.84)" fill="none" stroke="#6db36d" stroke-width="0.75"/>
<ellipse cx="513.6" cy="340.28" rx="41.83" ry="16.02" transform="rotate(124.62 513.6 340.28)" fill="none" stroke="#6db36d" stroke-width="0.75"/>
<ellipse cx="518.36" cy="340.84" rx="53.01" ry="8.57" transform="rotate(134.89 518.36 340.84)" fill="none" stroke="#6db36d" stroke-width="0.75"/>
<ellipse cx="553.7" cy="307.18" rx="92.74" ry="7.16" transform="rotate(130.69 553.7 307.18)" fill="none" stroke="#6db36d" stroke-width="0.75"/>
<circle cx="483.6" cy="291.3" r="2.35" fill="#0000ff"/>
<circle cx="482.8" cy="301.0" r="2.35" fill="#0000ff"/>
<circle cx="490.1" cy="307.8" r="2.35" fill="#0000ff"/>
<circle cx="491.3" cy="319.7" r="2.35" fill="#0000ff"/>
<circle cx="502.2" cy="344.4" r="2.35" fill="#0000ff"/>
<circle cx="528.4" cy="322.1" r="2.35" fill="#006400"/>
<circle cx="506.7" cy="339.0" r="2.35" fill="#006400"/>
<circle cx="506.9" cy="341.7" r="2.35" fill="#006400"/>
<circle cx="515.2" cy="338.1" r="2.35" fill="#006400"/>
<circle cx="512.1" cy="348.6" r="2.35" fill="#006400"/>
<circle cx="512.1" cy="352.0" r="2.35" fill="#006400"/>
<circle cx="532.8" cy="327.1" r="2.35" fill="#ff0000"/>
<circle cx="525.1" cy="335.4" r="2.35" fill="#ff0000"/>
<circle cx="513.9" cy="341.0" r="2.35" fill="#ff0000"/>
<circle cx="510.0" cy="346.9" r="2.35" fill="#ff0000"/>
<circle cx="510.0" cy="353.6" r="2.35" fill="#ff0000"/>
<circle cx="539.0" cy="322.1" r="2.35" fill="#8a2be2"/>
<circle cx="534.7" cy="331.9" r="2.35" fill="#8a2be2"/>
<circle cx="573.0" cy="287.0" r="2.35" fill="#8a2be2"/>
<circle cx="558.9" cy="297.1" r="2.35" fill="#8a2be2"/>
<circle cx="562.9" cy="297.8" r="2.35" fill="#8a2be2"/>
<line x1="518.6" y1="325.9" x2="463.3" y2="290.3" stroke="#ff1a1a" stroke-width="1.1"/>
<line x1="463.3" y1="290.3" x2="465.93" y2="295.13" stroke="#ff1a1a" stroke-width="1.1"/>
<line x1="463.3" y1="290.3" x2="468.79" y2="290.70" stroke="#ff1a1a" stroke-width="1.1"/>
<text x="470.0" y="292.00" font-size="4.3" font-weight="bold" fill="#333">IL-5</text>
<line x1="518.6" y1="325.9" x2="494.8" y2="305.0" stroke="#ff1a1a" stroke-width="1.1"/>
<line x1="494.8" y1="305.0" x2="496.69" y2="310.17" stroke="#ff1a1a" stroke-width="1.1"/>
<line x1="494.8" y1="305.0" x2="500.17" y2="306.20" stroke="#ff1a1a" stroke-width="1.1"/>
<text x="500.7" y="306.00" font-size="4.3" font-weight="bold" fill="#333">IL-2</text>
<line x1="518.6" y1="325.9" x2="575.4" y2="310.7" stroke="#ff1a1a" stroke-width="1.1"/>
<line x1="575.4" y1="310.7" x2="570.06" y2="309.40" stroke="#ff1a1a" stroke-width="1.1"/>
<line x1="575.4" y1="310.7" x2="571.42" y2="314.49" stroke="#ff1a1a" stroke-width="1.1"/>
<text x="578" y="312.30" font-size="4.3" font-weight="bold" fill="#333">IL-4</text>
<line x1="518.6" y1="325.9" x2="548.1" y2="322.1" stroke="#ff1a1a" stroke-width="1.1"/>
<line x1="548.1" y1="322.1" x2="542.98" y2="320.10" stroke="#ff1a1a" stroke-width="1.1"/>
<line x1="548.1" y1="322.1" x2="543.65" y2="325.33" stroke="#ff1a1a" stroke-width="1.1"/>
<text x="551.3" y="322.60" font-size="4.3" font-weight="bold" fill="#333">INF-gamma</text>
<line x1="518.6" y1="325.9" x2="537.1" y2="342.3" stroke="#ff1a1a" stroke-width="1.1"/>
<line x1="537.1" y1="342.3" x2="535.24" y2="337.13" stroke="#ff1a1a" stroke-width="1.1"/>
<line x1="537.1" y1="342.3" x2="531.74" y2="341.07" stroke="#ff1a1a" stroke-width="1.1"/>
<text x="540.2" y="341.80" font-size="4.3" font-weight="bold" fill="#333">IL-10</text>
<rect x="438.45" y="210.3" width="197.55" height="196.20" fill="none" stroke="#b4b4b4" stroke-width="1.2"/>
<path d="M438.45 210.3V406.5H636.0" fill="none" stroke="#7a7a7a" stroke-width="1.1"/>
<line x1="435.84999999999997" y1="398.77" x2="438.45" y2="398.77" stroke="#555" stroke-width="0.75"/>
<text x="435.25" y="400.97" font-size="5.2" text-anchor="end">-250</text>
<line x1="435.84999999999997" y1="384.26" x2="438.45" y2="384.26" stroke="#555" stroke-width="0.75"/>
<text x="435.25" y="386.46" font-size="5.2" text-anchor="end">-200</text>
<line x1="435.84999999999997" y1="369.75" x2="438.45" y2="369.75" stroke="#555" stroke-width="0.75"/>
<text x="435.25" y="371.94" font-size="5.2" text-anchor="end">-150</text>
<line x1="435.84999999999997" y1="355.23" x2="438.45" y2="355.23" stroke="#555" stroke-width="0.75"/>
<text x="435.25" y="357.43" font-size="5.2" text-anchor="end">-100</text>
<line x1="435.84999999999997" y1="340.71" x2="438.45" y2="340.71" stroke="#555" stroke-width="0.75"/>
<text x="435.25" y="342.91" font-size="5.2" text-anchor="end">-50</text>
<line x1="435.84999999999997" y1="326.20" x2="438.45" y2="326.20" stroke="#555" stroke-width="0.75"/>
<text x="435.25" y="328.40" font-size="5.2" text-anchor="end">0</text>
<line x1="435.84999999999997" y1="311.69" x2="438.45" y2="311.69" stroke="#555" stroke-width="0.75"/>
<text x="435.25" y="313.88" font-size="5.2" text-anchor="end">50</text>
<line x1="435.84999999999997" y1="297.17" x2="438.45" y2="297.17" stroke="#555" stroke-width="0.75"/>
<text x="435.25" y="299.37" font-size="5.2" text-anchor="end">100</text>
<line x1="435.84999999999997" y1="282.65" x2="438.45" y2="282.65" stroke="#555" stroke-width="0.75"/>
<text x="435.25" y="284.85" font-size="5.2" text-anchor="end">150</text>
<line x1="435.84999999999997" y1="268.14" x2="438.45" y2="268.14" stroke="#555" stroke-width="0.75"/>
<text x="435.25" y="270.34" font-size="5.2" text-anchor="end">200</text>
<line x1="435.84999999999997" y1="253.62" x2="438.45" y2="253.62" stroke="#555" stroke-width="0.75"/>
<text x="435.25" y="255.82" font-size="5.2" text-anchor="end">250</text>
<line x1="435.84999999999997" y1="239.11" x2="438.45" y2="239.11" stroke="#555" stroke-width="0.75"/>
<text x="435.25" y="241.31" font-size="5.2" text-anchor="end">300</text>
<line x1="435.84999999999997" y1="224.59" x2="438.45" y2="224.59" stroke="#555" stroke-width="0.75"/>
<text x="435.25" y="226.79" font-size="5.2" text-anchor="end">350</text>
<line x1="435.84999999999997" y1="210.08" x2="438.45" y2="210.08" stroke="#555" stroke-width="0.75"/>
<text x="435.25" y="212.28" font-size="5.2" text-anchor="end">400</text>
<line x1="445.56" y1="406.5" x2="445.56" y2="409.1" stroke="#555" stroke-width="0.75"/>
<text x="445.56" y="414.0" font-size="5.2" text-anchor="middle">-200</text>
<line x1="463.77" y1="406.5" x2="463.77" y2="409.1" stroke="#555" stroke-width="0.75"/>
<text x="463.77" y="414.0" font-size="5.2" text-anchor="middle">-150</text>
<line x1="481.98" y1="406.5" x2="481.98" y2="409.1" stroke="#555" stroke-width="0.75"/>
<text x="481.98" y="414.0" font-size="5.2" text-anchor="middle">-100</text>
<line x1="500.19" y1="406.5" x2="500.19" y2="409.1" stroke="#555" stroke-width="0.75"/>
<text x="500.19" y="414.0" font-size="5.2" text-anchor="middle">-50</text>
<line x1="518.40" y1="406.5" x2="518.40" y2="409.1" stroke="#555" stroke-width="0.75"/>
<text x="518.40" y="414.0" font-size="5.2" text-anchor="middle">0</text>
<line x1="536.61" y1="406.5" x2="536.61" y2="409.1" stroke="#555" stroke-width="0.75"/>
<text x="536.61" y="414.0" font-size="5.2" text-anchor="middle">50</text>
<line x1="554.82" y1="406.5" x2="554.82" y2="409.1" stroke="#555" stroke-width="0.75"/>
<text x="554.82" y="414.0" font-size="5.2" text-anchor="middle">100</text>
<line x1="573.03" y1="406.5" x2="573.03" y2="409.1" stroke="#555" stroke-width="0.75"/>
<text x="573.03" y="414.0" font-size="5.2" text-anchor="middle">150</text>
<line x1="591.24" y1="406.5" x2="591.24" y2="409.1" stroke="#555" stroke-width="0.75"/>
<text x="591.24" y="414.0" font-size="5.2" text-anchor="middle">200</text>
<line x1="609.45" y1="406.5" x2="609.45" y2="409.1" stroke="#555" stroke-width="0.75"/>
<text x="609.45" y="414.0" font-size="5.2" text-anchor="middle">250</text>
<line x1="627.66" y1="406.5" x2="627.66" y2="409.1" stroke="#555" stroke-width="0.75"/>
<text x="627.66" y="414.0" font-size="5.2" text-anchor="middle">300</text>
<text x="537" y="420.4" font-size="6" font-weight="bold" text-anchor="middle">RDA1(17.60%)</text>
<text transform="translate(423,304.5) rotate(-90)" font-size="6" font-weight="bold" text-anchor="middle">RDA2(6.82%)</text>
<circle cx="644.3" cy="213.60" r="2.3" fill="#0000ff"/>
<text x="648.1" y="215.20" font-size="4.4">C_a</text>
<circle cx="644.3" cy="221.87" r="2.3" fill="#006400"/>
<text x="648.1" y="223.47" font-size="4.4">C_b</text>
<circle cx="644.3" cy="230.14" r="2.3" fill="#ff0000"/>
<text x="648.1" y="231.74" font-size="4.4">C_c</text>
<circle cx="644.3" cy="238.41" r="2.3" fill="#8a2be2"/>
<text x="648.1" y="240.01" font-size="4.4">C_d</text>
</svg>
</body></html>
